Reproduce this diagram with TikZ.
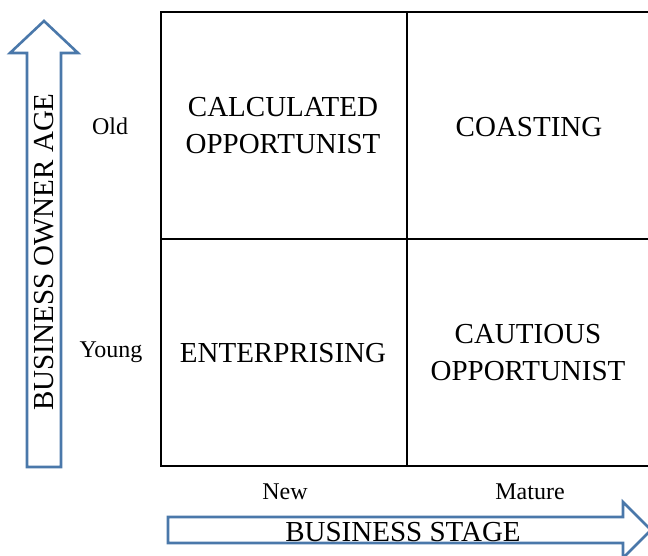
\documentclass[tikz,border=0pt]{standalone}
\usepackage{fontspec}
\setmainfont{Liberation Serif}
\begin{document}
\begin{tikzpicture}[x=1pt,y=-1pt,
  cell/.style={font=\fontsize{29}{37}\selectfont, align=center, inner sep=0pt},
  axislabel/.style={font=\fontsize{24}{28}\selectfont, inner sep=0pt},
  titlelabel/.style={font=\fontsize{29}{34}\selectfont, inner sep=0pt},
  bigarrow/.style={draw=arrowblue, line width=2.6pt, fill=white, line join=miter},
  gridline/.style={draw=black, line width=1.6pt}]
\definecolor{arrowblue}{HTML}{4A78AA}
\useasboundingbox (0,0) rectangle (648,555);

% vertical axis arrow: business owner age
\draw[bigarrow] (27,467) -- (27,53) -- (10,53) -- (44,21) -- (78,53) -- (61,53) -- (61,467) -- cycle;
\node[titlelabel, rotate=90] (agelabel) at (44,252) {BUSINESS OWNER AGE};

% horizontal axis arrow: business stage
\draw[bigarrow] (168,517) -- (623,517) -- (623,502) -- (651,530) -- (623,558) -- (623,543) -- (168,543) -- cycle;
\node[titlelabel] (stagelabel) at (403,532) {BUSINESS STAGE};

% the 2x2 grid
\coordinate (tl) at (161,12);
\coordinate (bl) at (161,466);
\coordinate (tr) at (660,12);
\coordinate (br) at (660,466);
\coordinate (mt) at (407,12);
\coordinate (mb) at (407,466);
\coordinate (ml) at (161,239);
\coordinate (mr) at (660,239);
\draw[gridline] (tr) -- (tl) -- (bl) -- (br);
\draw[gridline] (ml) -- (mr);
\draw[draw=black, line width=1.1pt] (mt) -- (mb);

% quadrant names
\node[cell] (calc) at (283,126) {CALCULATED\\OPPORTUNIST};
\node[cell] (coast) at (529,127) {COASTING};
\node[cell] (enter) at (283,353) {ENTERPRISING};
\node[cell] (caut) at (528,353) {CAUTIOUS\\OPPORTUNIST};

% axis values
\node[axislabel] (old) at (110,126) {Old};
\node[axislabel] (young) at (111,352) {Young};
\node[axislabel] (new) at (285,492) {New};
\node[axislabel] (mature) at (530,492) {Mature};
\end{tikzpicture}
\end{document}
